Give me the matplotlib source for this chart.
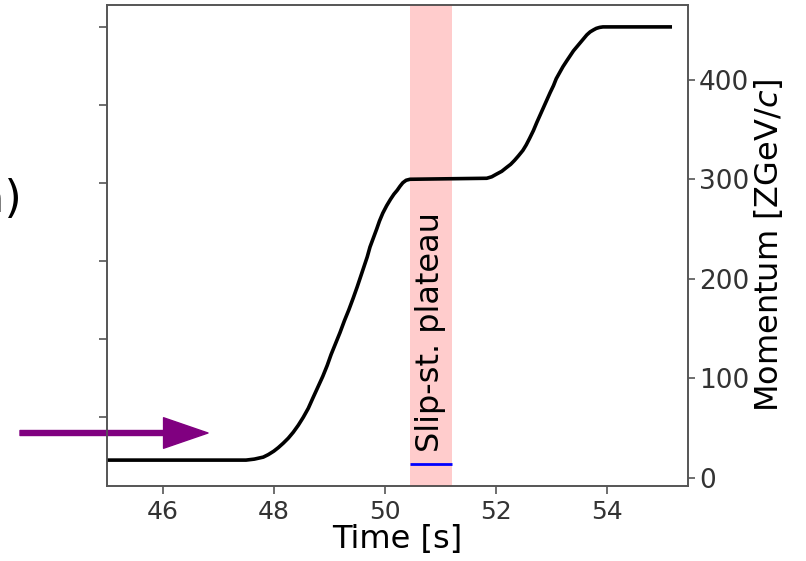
import matplotlib
matplotlib.use("Agg")
import matplotlib.pyplot as plt

# momentum ramp
time_s = [45.0, 47.5, 47.65, 47.81, 47.9, 48.0, 48.08, 48.17, 48.26, 48.35,
          48.44, 48.53, 48.62, 48.7, 48.79, 48.88, 48.96, 49.03, 49.11, 49.19,
          49.27, 49.35, 49.43, 49.5, 49.56, 49.62, 49.68, 49.73, 49.79, 49.85,
          49.9, 49.96, 50.03, 50.1, 50.16, 50.22, 50.27, 50.32, 50.38, 50.45,
          51.83, 51.92, 52.0, 52.1, 52.19, 52.26, 52.33, 52.4, 52.48, 52.54,
          52.6, 52.67, 52.73, 52.79, 52.85, 52.91, 52.97, 53.03, 53.08, 53.14,
          53.2, 53.27, 53.33, 53.39, 53.45, 53.51, 53.57, 53.63, 53.69, 53.75,
          53.8, 53.86, 53.92, 55.13]
momentum = [18, 18, 19, 21, 23.5, 27, 30.5, 35, 40, 46,
            53, 61, 70, 80, 91, 102, 113, 124, 135, 146,
            158, 169, 181, 192, 202, 212, 222, 232, 241, 250,
            258, 266, 273.5, 280, 285, 289, 293, 296.5, 299, 300,
            301, 302.5, 305, 308, 312, 315, 319, 323.5, 329, 334.5,
            341, 349, 357, 364.5, 372, 379.5, 387, 394, 401, 407,
            413, 419, 424, 429, 433, 437, 441, 445, 448, 450,
            451.5, 452.5, 453, 453]

plateau = (50.45, 51.2)
blue_level = 14
x_ticks = [46, 48, 50, 52, 54]
right_ticks = [0, 100, 200, 300, 400]
left_ticks = [1, 2, 3, 4, 5, 6]

spine_col = "#555555"
text_col = "#333333"

fig = plt.figure(figsize=(8.06, 5.61), dpi=100)
ax = fig.add_axes([0.1328, 0.1337, 0.7208, 0.8574])
ax2 = ax.twinx()

# left axis: only ticks remain, labels are cropped away
ax.set_ylim(0.12, 6.28)
ax.set_yticks(left_ticks)
ax.set_yticklabels([])
ax.set_xlim(45, 55.45)
ax.set_xticks(x_ticks)
ax.tick_params(axis="x", labelsize=18, colors=spine_col, labelcolor=text_col,
               length=6, width=1.2, pad=4)
ax.tick_params(axis="y", colors=spine_col, length=6, width=1.2)
ax.set_xlabel("Time [s]", fontsize=23, labelpad=0)

ax2.axvspan(plateau[0], plateau[1], color="red", alpha=0.2, lw=0)
ax2.hlines(blue_level, plateau[0], plateau[1], color="blue", lw=2)
ax2.plot(time_s, momentum, color="black", lw=2.6)
ax2.text(sum(plateau) / 2, 26, "Slip-st. plateau", rotation=90,
         ha="center", va="bottom", fontsize=23)

ax2.set_ylim(-8, 475)
ax2.set_yticks(right_ticks)
ax2.tick_params(axis="y", labelsize=19, colors=spine_col, labelcolor=text_col,
                length=5, width=1.2, pad=3)
ax2.set_ylabel("Momentum [ZGeV/$c$]", fontsize=23, labelpad=2)

for a in (ax, ax2):
    for s in a.spines.values():
        s.set_color(spine_col)
        s.set_linewidth(1.2)

# purple marker arrow that sits across the left edge
ax.annotate("", xy=(208, 128), xytext=(20, 128), xycoords="figure pixels",
            textcoords="figure pixels", annotation_clip=False,
            arrowprops=dict(width=3.6, headwidth=22, headlength=32,
                            color="purple", shrink=0))

# panel label, mostly cut off by the crop
fig.text(22 / 806, 0.645, "(a)", ha="right", va="center", fontsize=32)

fig.savefig("out.png", dpi=100)
